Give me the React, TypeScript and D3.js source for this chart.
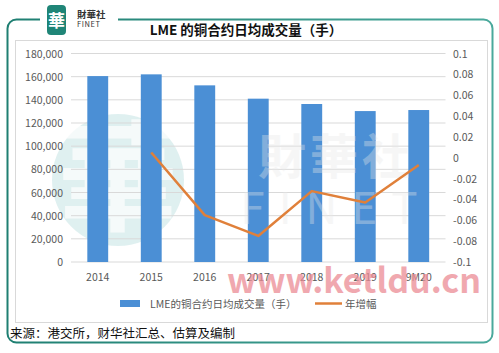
import * as d3 from "d3";

const categories = ["2014", "2015", "2016", "2017", "2018", "2019", "9M20"];
const volume = [160500, 162000, 152500, 141000, 136400, 130300, 131200];
const growth = [null, 0.005, -0.055, -0.075, -0.032, -0.043, -0.007];
const leftTicks = [0, 20000, 40000, 60000, 80000, 100000, 120000, 140000, 160000, 180000];
const rightTicks = [-0.1, -0.08, -0.06, -0.04, -0.02, 0, 0.02, 0.04, 0.06, 0.08, 0.1];

const W = 499;
const H = 353;
const font = "'Noto Sans CJK SC', 'Open Sans', sans-serif";

export default function App() {
  const plot = { left: 71, right: 445.5, top: 53.5, bottom: 262 };

  const x = d3.scaleBand().domain(categories).range([plot.left, plot.right]).paddingInner(0.61).paddingOuter(0.305);
  const yL = d3.scaleLinear().domain([0, 180000]).range([plot.bottom, plot.top]);
  const yR = d3.scaleLinear().domain([-0.1, 0.1]).range([plot.bottom, plot.top]);

  const fmtL = d3.format(",");
  const fmtR = (v: number) => (Math.abs(v) < 1e-9 ? "0" : String(+v.toFixed(2)));

  const pts = categories
    .map((c, i) => ({ c, v: growth[i] }))
    .filter((d) => d.v !== null) as { c: string; v: number }[];
  const line = d3
    .line<{ c: string; v: number }>()
    .x((d) => x(d.c)! + x.bandwidth() / 2)
    .y((d) => yR(d.v));

  return (
    <svg width={W} height={H} style={{ position: "absolute", left: 0, top: 0, background: "#fff" }} fontFamily={font}>
      <defs>
        <linearGradient id="frame" x1="0" x2="1" y1="0" y2="0">
          <stop offset="0" stopColor="#1f7f72" />
          <stop offset="1" stopColor="#4aa99c" />
        </linearGradient>
      </defs>

      {/* outer frame */}
      <rect x={7.5} y={19.5} width={485} height={323} rx={9} fill="#fff" stroke="url(#frame)" strokeWidth={2} />
      <rect x={40} y={14} width={78} height={10} fill="#fff" />

      {/* logo */}
      <rect x={47} y={5} width={19} height={30} rx={4} fill="#1f8577" />
      <text x={56.5} y={27} textAnchor="middle" fontSize={17} fontWeight="bold" fill="#fff">華</text>
      <text x={77} y={18} fontSize={9.5} fontWeight="bold" fill="#333">財華社</text>
      <text x={77} y={27} fontSize={7.5} fill="#333" letterSpacing={0.6}>FINET</text>

      {/* title */}
      <text x={246} y={35} textAnchor="middle" fontSize={13.5} fontWeight="bold" fill="#111">
        LME 的铜合约日均成交量（手）
      </text>

      {/* inner panel */}
      <rect x={15.5} y={40.5} width={472} height={282} fill="#fff" stroke="#d9d9d9" strokeWidth={1} />

      {/* faded logo watermark */}
      <circle cx={118} cy={180} r={66} fill="#d7ecec" opacity={0.8} />
      <text x={118} y={222} textAnchor="middle" fontSize={120} fontWeight="bold" fill="#fff" opacity={0.7}>華</text>

      {/* gridlines */}
      {leftTicks.map((t) => (
        <line key={t} x1={plot.left} x2={plot.right} y1={yL(t)} y2={yL(t)} stroke="#d9d9d9" strokeWidth={1} />
      ))}

      {/* bars */}
      {categories.map((c, i) => (
        <rect key={c} x={x(c)} y={yL(volume[i])} width={x.bandwidth()} height={plot.bottom - yL(volume[i])} fill="#4b8fd5" />
      ))}

      {/* text watermark */}
      <g opacity={0.35} fill="#e8e8e8" fontWeight="bold">
        <text x={336} y={174} textAnchor="middle" fontSize={48} letterSpacing={4}>財華社</text>
        <text x={336} y={224} textAnchor="middle" fontSize={44} fontWeight="normal" letterSpacing={14}>FINET</text>
      </g>

      {/* growth line */}
      <path d={line(pts)!} fill="none" stroke="#e0803a" strokeWidth={2.5} strokeLinejoin="round" />

      {/* left axis labels */}
      {leftTicks.map((t) => (
        <text key={t} x={63} y={yL(t) + 4} textAnchor="end" fontSize={10.5} fill="#595959">
          {fmtL(t)}
        </text>
      ))}

      {/* right axis labels */}
      {rightTicks.map((t) => (
        <text key={t} x={453} y={yR(t) + 4} fontSize={10.5} fill="#595959">
          {fmtR(t)}
        </text>
      ))}

      {/* category labels */}
      {categories.map((c) => (
        <text key={c} x={x(c)! + x.bandwidth() / 2} y={281} textAnchor="middle" fontSize={10.5} fill="#595959">
          {c}
        </text>
      ))}

      {/* site watermark */}
      <text x={354} y={293} textAnchor="middle" fontSize={34} fontWeight="bold" fill="#eb8c95" opacity={0.75}>
        www.ketldu.cn
      </text>

      {/* legend */}
      <rect x={120} y={300} width={20} height={7} fill="#4b8fd5" />
      <text x={150} y={308} fontSize={10.5} fill="#595959">LME的铜合约日均成交量（手）</text>
      <line x1={315} x2={342} y1={303.5} y2={303.5} stroke="#e0803a" strokeWidth={2.5} />
      <text x={345} y={308} fontSize={10.5} fill="#595959">年增幅</text>

      {/* source */}
      <text x={10} y={338} fontSize={12.5} fill="#111">来源：港交所，财华社汇总、估算及编制</text>
    </svg>
  );
}
